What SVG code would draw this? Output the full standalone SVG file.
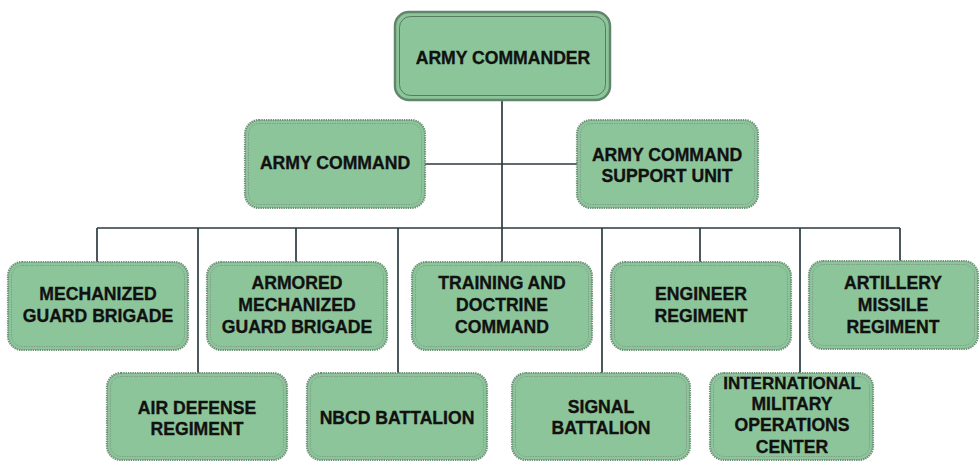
<svg xmlns="http://www.w3.org/2000/svg" width="980" height="461" viewBox="0 0 980 461">
<style>
.bx{fill:#8dc59b;stroke:#6f9279;stroke-width:2.2;stroke-dasharray:1.4 0.9}
.in{fill:none;stroke:#7d9483;stroke-width:0.8;stroke-dasharray:1.5 1}
.cmd{fill:#8dc59b;stroke:#62866c;stroke-width:2.5}
.cin{fill:none;stroke:#587a62;stroke-width:1}
text{font-family:"Liberation Sans",Arial,sans-serif;font-weight:bold;font-size:17.6px;fill:#111;stroke:#111;stroke-width:0.35;text-anchor:middle}
.sm{font-size:17px}
.ln{fill:none;stroke:#2c3b42;stroke-width:1.7}
</style>
<rect width="980" height="461" fill="#ffffff"/>
<g id="connectors">
<path class="ln" d="M502 100V228M425 164H577M97 228H900M97 228V262M198 228V373M296 228V262M398 228V373M502 228V262M602 228V373M700 228V262M800 228V373M900 228V262"/>
</g>
<g id="army-commander">
<rect class="cmd" x="395" y="12" width="215" height="88" rx="14"/>
<rect class="cin" x="399.5" y="16.5" width="206" height="79" rx="11"/>
<text x="503" y="64">ARMY COMMANDER</text>
</g>
<g id="army-command">
<rect class="bx" x="245" y="120" width="180" height="88" rx="14"/>
<rect class="in" x="248.5" y="123.5" width="173" height="81" rx="11"/>
<text x="335" y="169">ARMY COMMAND</text>
</g>
<g id="support-unit">
<rect class="bx" x="577" y="120" width="181" height="88" rx="14"/>
<rect class="in" x="580.5" y="123.5" width="174" height="81" rx="11"/>
<text x="667" y="161">ARMY COMMAND</text>
<text x="667" y="182">SUPPORT UNIT</text>
</g>
<g id="mechanized">
<rect class="bx" x="8" y="262" width="180" height="88" rx="14"/>
<rect class="in" x="11.5" y="265.5" width="173" height="81" rx="11"/>
<text x="98" y="300">MECHANIZED</text>
<text x="98" y="322">GUARD BRIGADE</text>
</g>
<g id="armored">
<rect class="bx" x="207" y="262" width="180" height="88" rx="14"/>
<rect class="in" x="210.5" y="265.5" width="173" height="81" rx="11"/>
<text x="297" y="289">ARMORED</text>
<text x="297" y="311">MECHANIZED</text>
<text x="297" y="333">GUARD BRIGADE</text>
</g>
<g id="training">
<rect class="bx" x="412" y="262" width="180" height="88" rx="14"/>
<rect class="in" x="415.5" y="265.5" width="173" height="81" rx="11"/>
<text x="502" y="289">TRAINING AND</text>
<text x="502" y="311">DOCTRINE</text>
<text x="502" y="333">COMMAND</text>
</g>
<g id="engineer">
<rect class="bx" x="611" y="262" width="180" height="88" rx="14"/>
<rect class="in" x="614.5" y="265.5" width="173" height="81" rx="11"/>
<text x="701" y="300">ENGINEER</text>
<text x="701" y="322">REGIMENT</text>
</g>
<g id="artillery">
<rect class="bx" x="809" y="261" width="169" height="88" rx="14"/>
<rect class="in" x="812.5" y="264.5" width="162" height="81" rx="11"/>
<text x="893" y="289">ARTILLERY</text>
<text x="893" y="311">MISSILE</text>
<text x="893" y="333">REGIMENT</text>
</g>
<g id="air-defense">
<rect class="bx" x="107" y="373" width="180" height="87" rx="14"/>
<rect class="in" x="110.5" y="376.5" width="173" height="80" rx="11"/>
<text x="197" y="414">AIR DEFENSE</text>
<text x="197" y="435">REGIMENT</text>
</g>
<g id="nbcd">
<rect class="bx" x="307" y="373" width="180" height="87" rx="14"/>
<rect class="in" x="310.5" y="376.5" width="173" height="80" rx="11"/>
<text x="397" y="424">NBCD BATTALION</text>
</g>
<g id="signal">
<rect class="bx" x="512" y="373" width="178" height="87" rx="14"/>
<rect class="in" x="515.5" y="376.5" width="171" height="80" rx="11"/>
<text x="601" y="413">SIGNAL</text>
<text x="601" y="434">BATTALION</text>
</g>
<g id="international">
<rect class="bx" x="710" y="373" width="163" height="87" rx="14"/>
<rect class="in" x="713.5" y="376.5" width="156" height="80" rx="11"/>
<text class="sm" x="792" y="389">INTERNATIONAL</text>
<text x="792" y="410">MILITARY</text>
<text x="792" y="431">OPERATIONS</text>
<text x="792" y="453">CENTER</text>
</g>
</svg>
